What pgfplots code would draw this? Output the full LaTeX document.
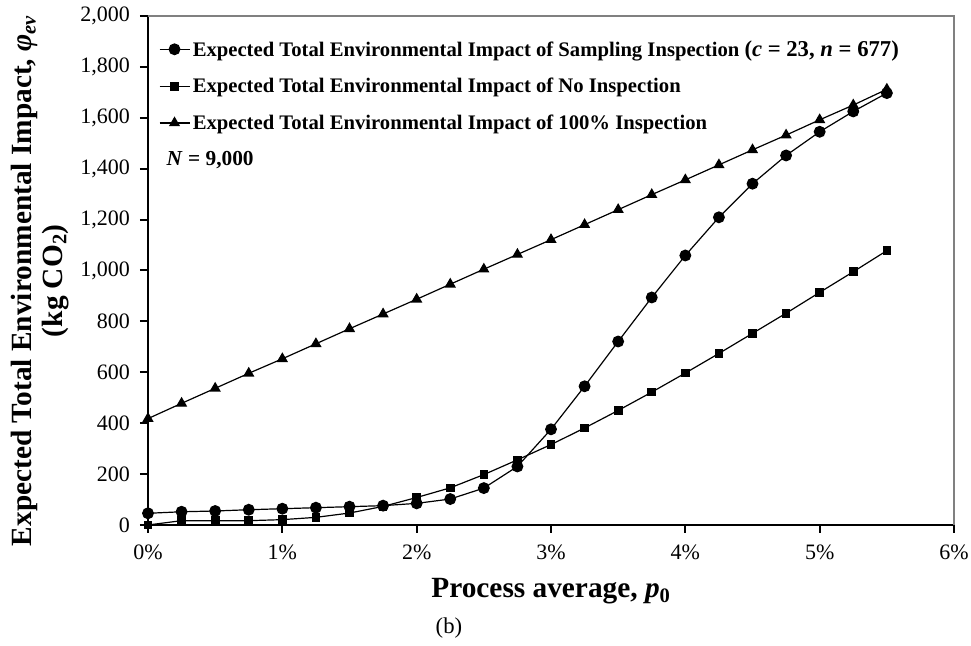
\documentclass[border=0pt]{standalone}
\usepackage{pgfplots}
\pgfplotsset{compat=1.18}
\usepackage{fontspec}
\setmainfont{Liberation Serif}
\begin{document}
\begin{tikzpicture}
\begin{axis}[
  scale only axis,
  width=604.5pt, height=381.75pt,
  xmin=0, xmax=6, ymin=0, ymax=2000,
  xtick={0,1,2,3,4,5,6},
  ytick={0,200,...,2000},
  axis lines*=left,
  axis line style={line width=2pt, black},
  tick align=outside,
  major tick length=6pt,
  tick style={line width=1.5pt, black},
  /pgf/number format/1000 sep={,},
  /pgf/number format/assume math mode=true,
  xticklabel={\pgfmathprintnumber{\tick}\%},
  tick label style={font=\fontsize{16.5}{19}\selectfont},
  xticklabel style={yshift=-5pt},
  yticklabel style={xshift=-4pt},
  xlabel={\textbf{Process average, \textit{p}\textsubscript{0}}},
  xlabel style={at={(rel axis cs:0.5,-0.1434)}, anchor=base, font=\fontsize{22}{26}\selectfont},
  ylabel={\textbf{Expected Total Environmental Impact, \textit{φ}\textsubscript{\textit{ev}}}\\\textbf{(kg CO\textsubscript{2})}},
  ylabel style={at={(rel axis cs:-0.134,0.48)}, anchor=center, align=center, font=\fontsize{22}{23}\selectfont},
  clip=false,
  legend cell align=left,
  legend style={draw=none, fill=none, at={(rel axis cs:0.0099,0.963)}, anchor=north west,
    font=\fontsize{15.5}{17}\selectfont\bfseries, row sep=11pt, inner sep=2pt},
  legend image code/.code={\draw[mark repeat=2,mark phase=2,#1] plot coordinates {(0pt,0pt) (11.25pt,0pt) (22.5pt,0pt)};},
  every axis plot/.append style={line width=0.9pt, black},
]
% Sampling inspection
\addplot[mark=*, mark size=4pt] coordinates {
(0,46) (0.25,52) (0.5,55) (0.75,60) (1,64) (1.25,68) (1.5,72) (1.75,76) (2,85) (2.25,102) (2.5,145) (2.75,230) (3,376) (3.25,545) (3.5,721) (3.75,894) (4,1059) (4.25,1209) (4.5,1341) (4.75,1452) (5,1545) (5.25,1625) (5.5,1697)};
\addlegendentry{Expected Total Environmental Impact of Sampling Inspection {\fontsize{17}{17}\selectfont(\textit{c} = 23, \textit{n} = 677)}}
% No inspection
\addplot[mark=square*, mark size=2.8pt] coordinates {
(0,0) (0.25,17) (0.5,17) (0.75,17) (1,21) (1.25,30) (1.5,47) (1.75,73) (2,108) (2.25,146) (2.5,198) (2.75,256) (3,316) (3.25,381) (3.5,450) (3.75,522) (4,597) (4.25,674) (4.5,753) (4.75,832) (5,914) (5.25,995) (5.5,1078)};
\addlegendentry{Expected Total Environmental Impact of No Inspection}
% 100% inspection
\addplot[mark=triangle*, mark size=4pt] coordinates {
(0,418) (0.25,478) (0.5,537) (0.75,596) (1,653) (1.25,712) (1.5,771) (1.75,829) (2,887) (2.25,946) (2.5,1005) (2.75,1063) (3,1121) (3.25,1180) (3.5,1239) (3.75,1298) (4,1356) (4.25,1415) (4.5,1474) (4.75,1532) (5,1592) (5.25,1650) (5.5,1712)};
\addlegendentry{Expected Total Environmental Impact of 100\% Inspection}
\draw[gray, line width=0.8pt] (rel axis cs:0,1) -- (rel axis cs:1,1) -- (rel axis cs:1,0);
\node[anchor=base west, font=\fontsize{16}{18}\selectfont\bfseries] at (rel axis cs:0.0174,0.706) {\textit{N} = 9,000};
\node[anchor=center, font=\fontsize{17}{19}\selectfont] at (rel axis cs:0.3734,-0.2024) {(b)};
\coordinate (BBsw) at (rel axis cs:-0.18362,-0.23772);
\coordinate (BBne) at (rel axis cs:1.02109,1.03143);
\end{axis}
\pgfresetboundingbox
\useasboundingbox (BBsw) rectangle (BBne);
\end{tikzpicture}
\end{document}
